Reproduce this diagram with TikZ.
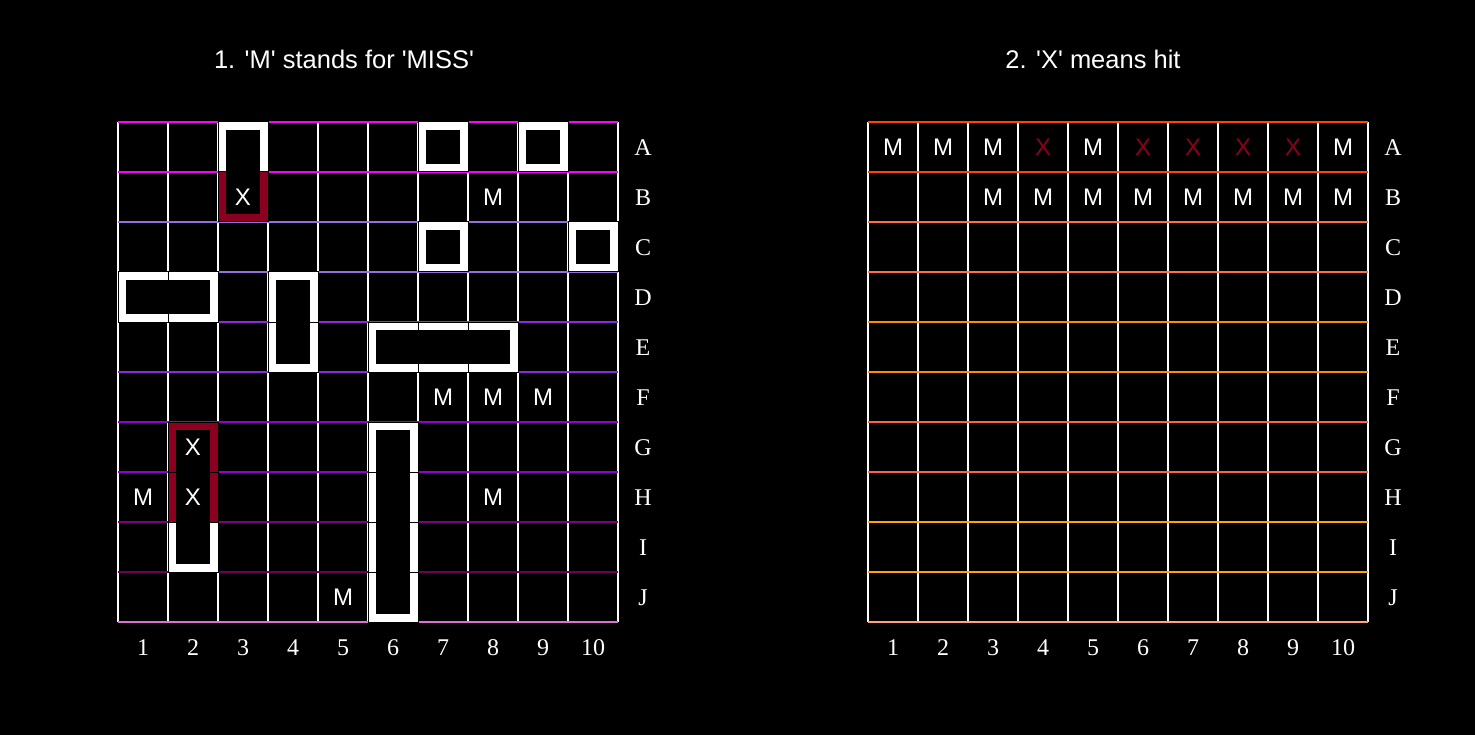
\documentclass[tikz,border=0pt]{standalone}
\usepackage{fontspec}
\setmainfont{Liberation Serif}
\newfontfamily\sansf{Liberation Sans}
\definecolor{hitred}{RGB}{139,0,30}
\definecolor{lA}{RGB}{255,0,255}
\definecolor{lC}{RGB}{147,112,219}
\definecolor{lE}{RGB}{138,43,226}
\definecolor{lG}{RGB}{148,0,211}
\definecolor{lI}{RGB}{128,0,128}
\definecolor{lJ}{RGB}{110,0,85}
\definecolor{lK}{RGB}{218,112,214}
\definecolor{rA}{RGB}{255,69,0}
\definecolor{rC}{RGB}{255,110,70}
\definecolor{rE}{RGB}{255,140,0}
\definecolor{rG}{RGB}{255,99,71}
\definecolor{rI}{RGB}{255,165,0}
\definecolor{rK}{RGB}{255,160,122}
\tikzset{
  hline/.style={line width=2.5pt},
  vline/.style={white,line width=2.5pt},
  shipedge/.style={line width=8pt},
  cellsep/.style={black,line width=1pt},
  celltext/.style={font=\sansf\fontsize{24}{26}\selectfont, text=white, anchor=base, inner sep=0pt},
  axislab/.style={font=\fontsize{24}{26}\selectfont, text=white, anchor=base, inner sep=0pt},
  titletext/.style={font=\sansf\fontsize{25.5}{28}\selectfont, text=white, anchor=base, inner sep=0pt}
}
\newcommand\ShipCell[7]{%
  \begin{scope}
    \clip ({118+50*(#5-1)},{122+50*(#6-1)}) rectangle ++(50,50);
    \fill[black] ({118+50*(#5-1)},{122+50*(#6-1)}) rectangle ++(50,50);
    \draw[shipedge,#7] ({118+50*(#1-1)+4},{122+50*(#2-1)+4}) rectangle ({118+50*#3-4},{122+50*#4-4});
  \end{scope}
  \draw[cellsep] ({118+50*(#5-1)},{122+50*(#6-1)}) rectangle ++(50,50);
}
\begin{document}
\begin{tikzpicture}[x=1pt,y=-1pt]
\fill[black] (0,0) rectangle (1475,735);
\useasboundingbox (0,0) rectangle (1475,735);

% titles
\node[titletext] (title1) at (344,69) {1. \textquotesingle M\textquotesingle\ stands for \textquotesingle MISS\textquotesingle};
\node[titletext] (title2) at (1093,69) {2. \textquotesingle X\textquotesingle\ means hit};

% vertical white lines
\foreach \j in {0,...,10} {
  \draw[vline] ({118+50*\j},122) -- ({118+50*\j},622);
  \draw[vline] ({868+50*\j},122) -- ({868+50*\j},622);
}
% horizontal coloured lines
\foreach \i/\cl in {0/lA,1/lA,2/lC,3/lC,4/lE,5/lE,6/lG,7/lG,8/lI,9/lJ,10/lK}
  \draw[hline,\cl] (118,{122+50*\i}) -- (618,{122+50*\i});
\foreach \i/\cl in {0/rA,1/rA,2/rC,3/rC,4/rE,5/rE,6/rG,7/rG,8/rI,9/rI,10/rK}
  \draw[hline,\cl] (868,{122+50*\i}) -- (1368,{122+50*\i});

% ships (left grid)
\ShipCell{3}{1}{3}{2}{3}{1}{white}
\ShipCell{3}{1}{3}{2}{3}{2}{hitred}
\ShipCell{7}{1}{7}{1}{7}{1}{white}
\ShipCell{9}{1}{9}{1}{9}{1}{white}
\ShipCell{7}{3}{7}{3}{7}{3}{white}
\ShipCell{10}{3}{10}{3}{10}{3}{white}
\ShipCell{1}{4}{2}{4}{1}{4}{white}
\ShipCell{1}{4}{2}{4}{2}{4}{white}
\ShipCell{4}{4}{4}{5}{4}{4}{white}
\ShipCell{4}{4}{4}{5}{4}{5}{white}
\ShipCell{6}{5}{8}{5}{6}{5}{white}
\ShipCell{6}{5}{8}{5}{7}{5}{white}
\ShipCell{6}{5}{8}{5}{8}{5}{white}
\ShipCell{2}{7}{2}{9}{2}{7}{hitred}
\ShipCell{2}{7}{2}{9}{2}{8}{hitred}
\ShipCell{2}{7}{2}{9}{2}{9}{white}
\ShipCell{6}{7}{6}{10}{6}{7}{white}
\ShipCell{6}{7}{6}{10}{6}{8}{white}
\ShipCell{6}{7}{6}{10}{6}{9}{white}
\ShipCell{6}{7}{6}{10}{6}{10}{white}

% left grid marks
\foreach \c/\r in {8/2,7/6,8/6,9/6,1/8,8/8,5/10}
  \node[celltext] (lm-\c-\r) at ({118+50*\c-25},{122+50*\r-25+8.5}) {M};
\foreach \c/\r in {3/2,2/7,2/8}
  \node[celltext] (lx-\c-\r) at ({118+50*\c-25},{122+50*\r-25+8.5}) {X};

% right grid marks
\foreach \c/\t/\cl in {1/M/white,2/M/white,3/M/white,4/X/hitred,5/M/white,6/X/hitred,7/X/hitred,8/X/hitred,9/X/hitred,10/M/white}
  \node[celltext,text=\cl] (ra-\c) at ({868+50*\c-25},{122+25+8.5}) {\t};
\foreach \c in {3,...,10}
  \node[celltext] (rb-\c) at ({868+50*\c-25},{172+25+8.5}) {M};

% axis labels
\foreach \r [count=\k from 0] in {A,B,C,D,E,F,G,H,I,J} {
  \node[axislab] (lrow-\r) at (643,{147+50*\k+8.5}) {\r};
  \node[axislab] (rrow-\r) at (1393,{147+50*\k+8.5}) {\r};
}
\foreach \k in {1,...,10} {
  \node[axislab] (lcol-\k) at ({118+50*\k-25},655.5) {\k};
  \node[axislab] (rcol-\k) at ({868+50*\k-25},655.5) {\k};
}
\end{tikzpicture}
\end{document}
